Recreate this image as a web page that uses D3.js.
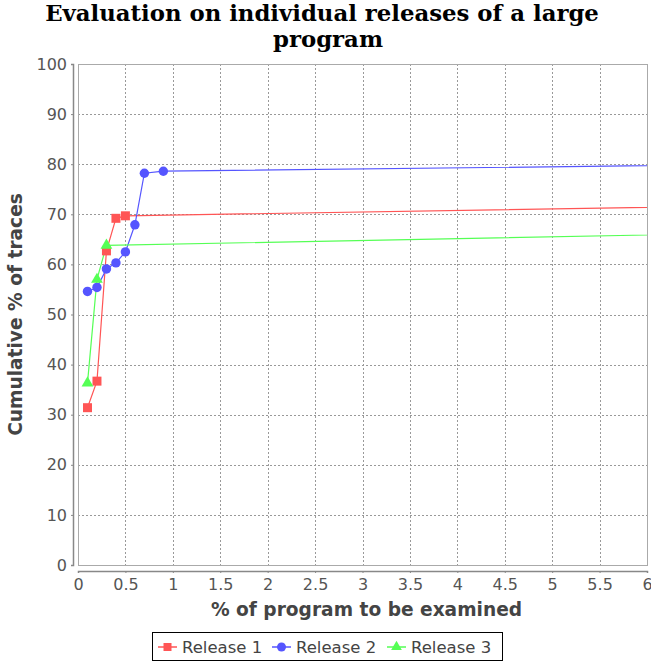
<!DOCTYPE html>
<html>
<head>
<meta charset="utf-8">
<script src="https://cdn.jsdelivr.net/npm/d3@7"></script>
<style>
  body { margin: 0; background: #fff; }
  svg { display: block; }
</style>
</head>
<body>
<div id="chart"></div>
<script>
// x = % of program examined, y = cumulative % of traces
// every series ends at (100,100), far outside the visible x range
const release1X = [0.1, 0.2, 0.3, 0.4, 0.5, 100];
const release1Y = [31.4, 36.7, 62.7, 69.2, 69.7, 100];
const release2X = [0.1, 0.2, 0.3, 0.4, 0.5, 0.6, 0.7, 0.9, 100];
const release2Y = [54.6, 55.4, 59.1, 60.3, 62.5, 67.9, 78.2, 78.6, 100];
const release3X = [0.1, 0.2, 0.3, 100];
const release3Y = [36.3, 57.0, 63.8, 100];

const seriesNames = ['Release 1', 'Release 2', 'Release 3'];
const seriesColors = ['#ff5555', '#5555ff', '#55ff55'];
const seriesShapes = [d3.symbolSquare, d3.symbolCircle, d3.symbolTriangle];

const xTicks = [0, 0.5, 1, 1.5, 2, 2.5, 3, 3.5, 4, 4.5, 5, 5.5, 6];
const yTicks = [0, 10, 20, 30, 40, 50, 60, 70, 80, 90, 100];

const W = 651, H = 661;
const plot = { left: 78, right: 647, top: 64, bottom: 565 };

const svg = d3.select('#chart').append('svg')
	.attr('width', W)
	.attr('height', H);

const x = d3.scaleLinear().domain([0, 6]).range([plot.left, plot.right]);
const y = d3.scaleLinear().domain([0, 100]).range([plot.bottom, plot.top]);

//title
svg.append('text')
	.attr('x', 322)
	.attr('y', 21)
	.attr('text-anchor', 'middle')
	.style('font', 'bold 22.8px "DejaVu Serif"')
	.text('Evaluation on individual releases of a large');
svg.append('text')
	.attr('x', 328)
	.attr('y', 47)
	.attr('text-anchor', 'middle')
	.style('font', 'bold 22.8px "DejaVu Serif"')
	.text('program');

//plot background
svg.append('rect')
	.attr('x', plot.left).attr('y', plot.top)
	.attr('width', plot.right - plot.left)
	.attr('height', plot.bottom - plot.top)
	.style('fill', '#fff');

//gridlines
svg.append('g').selectAll('line')
	.data(xTicks.slice(1, -1))
	.enter().append('line')
	.attr('x1', d => Math.round(x(d)) + 0.5).attr('x2', d => Math.round(x(d)) + 0.5)
	.attr('y1', plot.top).attr('y2', plot.bottom)
	.style('stroke', '#999').style('stroke-dasharray', '2,2');

svg.append('g').selectAll('line')
	.data(yTicks)
	.enter().append('line')
	.attr('x1', plot.left).attr('x2', plot.right)
	.attr('y1', d => Math.round(y(d)) + 0.5).attr('y2', d => Math.round(y(d)) + 0.5)
	.style('stroke', '#999').style('stroke-dasharray', '2,2');

//plot outline
svg.append('rect')
	.attr('x', plot.left + 0.5).attr('y', plot.top + 0.5)
	.attr('width', plot.right - plot.left)
	.attr('height', plot.bottom - plot.top)
	.style('fill', 'none')
	.style('stroke', '#aaa');

//axes
const xAxis = d3.axisBottom(x).tickValues(xTicks).tickFormat(d3.format('')).tickSize(2).tickPadding(4);
const yAxis = d3.axisLeft(y).tickValues(yTicks).tickSize(2).tickPadding(4);

const gx = svg.append('g')
	.attr('transform', `translate(0,${plot.bottom + 6})`)
	.call(xAxis);
const gy = svg.append('g')
	.attr('transform', `translate(${plot.left - 5},0)`)
	.call(yAxis);

[gx, gy].forEach(function(g){
	g.select('.domain').style('stroke', '#888').style('stroke-width', 1.5);
	g.selectAll('.tick line').style('stroke', '#888');
	g.selectAll('.tick text')
		.style('font', '16px "DejaVu Sans"')
		.style('fill', '#555');
});
gx.selectAll('.tick text').attr('dy', '0.8em');

//axis titles
svg.append('text')
	.attr('x', (plot.left + plot.right) / 2 + 4)
	.attr('y', 616)
	.attr('text-anchor', 'middle')
	.style('font', 'bold 18.6px "DejaVu Sans"')
	.style('fill', '#444')
	.text('% of program to be examined');

svg.append('text')
	.attr('transform', `translate(22,${(plot.top + plot.bottom) / 2}) rotate(-90)`)
	.attr('text-anchor', 'middle')
	.style('font', 'bold 18.6px "DejaVu Sans"')
	.style('fill', '#444')
	.text('Cumulative % of traces');

//series
const allX = [release1X, release2X, release3X];
const allY = [release1Y, release2Y, release3Y];
const series = seriesNames.map(function(name, i){
	return allX[i].map(function(v, j){ return [v, allY[i][j]]; });
});

svg.append('clipPath').attr('id', 'clip')
	.append('rect')
	.attr('x', plot.left).attr('y', plot.top)
	.attr('width', plot.right - plot.left)
	.attr('height', plot.bottom - plot.top);

const area = svg.append('g').attr('clip-path', 'url(#clip)');
const line = d3.line().x(d => x(d[0])).y(d => y(d[1]));

series.forEach(function(pts, i){
	area.append('path')
		.datum(pts)
		.attr('d', line)
		.style('fill', 'none')
		.style('stroke', seriesColors[i])
		.style('stroke-width', 1.2);
});

series.forEach(function(pts, i){
	const size = i === 2 ? 60 : (i === 0 ? 81 : 70);
	area.selectAll('.pt' + i)
		.data(pts)
		.enter().append('path')
		.attr('transform', d => `translate(${x(d[0])},${y(d[1])})`)
		.attr('d', d3.symbol().type(seriesShapes[i]).size(size))
		.style('fill', seriesColors[i]);
});

//legend
const legend = svg.append('g');
legend.append('rect')
	.attr('x', 152.5).attr('y', 632.5)
	.attr('width', 350).attr('height', 28)
	.style('fill', '#fff')
	.style('stroke', '#000');

const legendX = [158, 272, 387];
seriesNames.forEach(function(name, i){
	const g = legend.append('g').attr('transform', `translate(${legendX[i]},647)`);
	g.append('line')
		.attr('x1', 0).attr('x2', 19)
		.style('stroke', seriesColors[i]).style('stroke-width', 1.5);
	g.append('path')
		.attr('transform', 'translate(9.5,0)')
		.attr('d', d3.symbol().type(seriesShapes[i]).size(i === 2 ? 50 : 64))
		.style('fill', seriesColors[i]);
	g.append('text')
		.attr('x', 24).attr('y', 6)
		.style('font', '16.5px "DejaVu Sans"')
		.style('fill', '#444')
		.text(name);
});
</script>
</body>
</html>
